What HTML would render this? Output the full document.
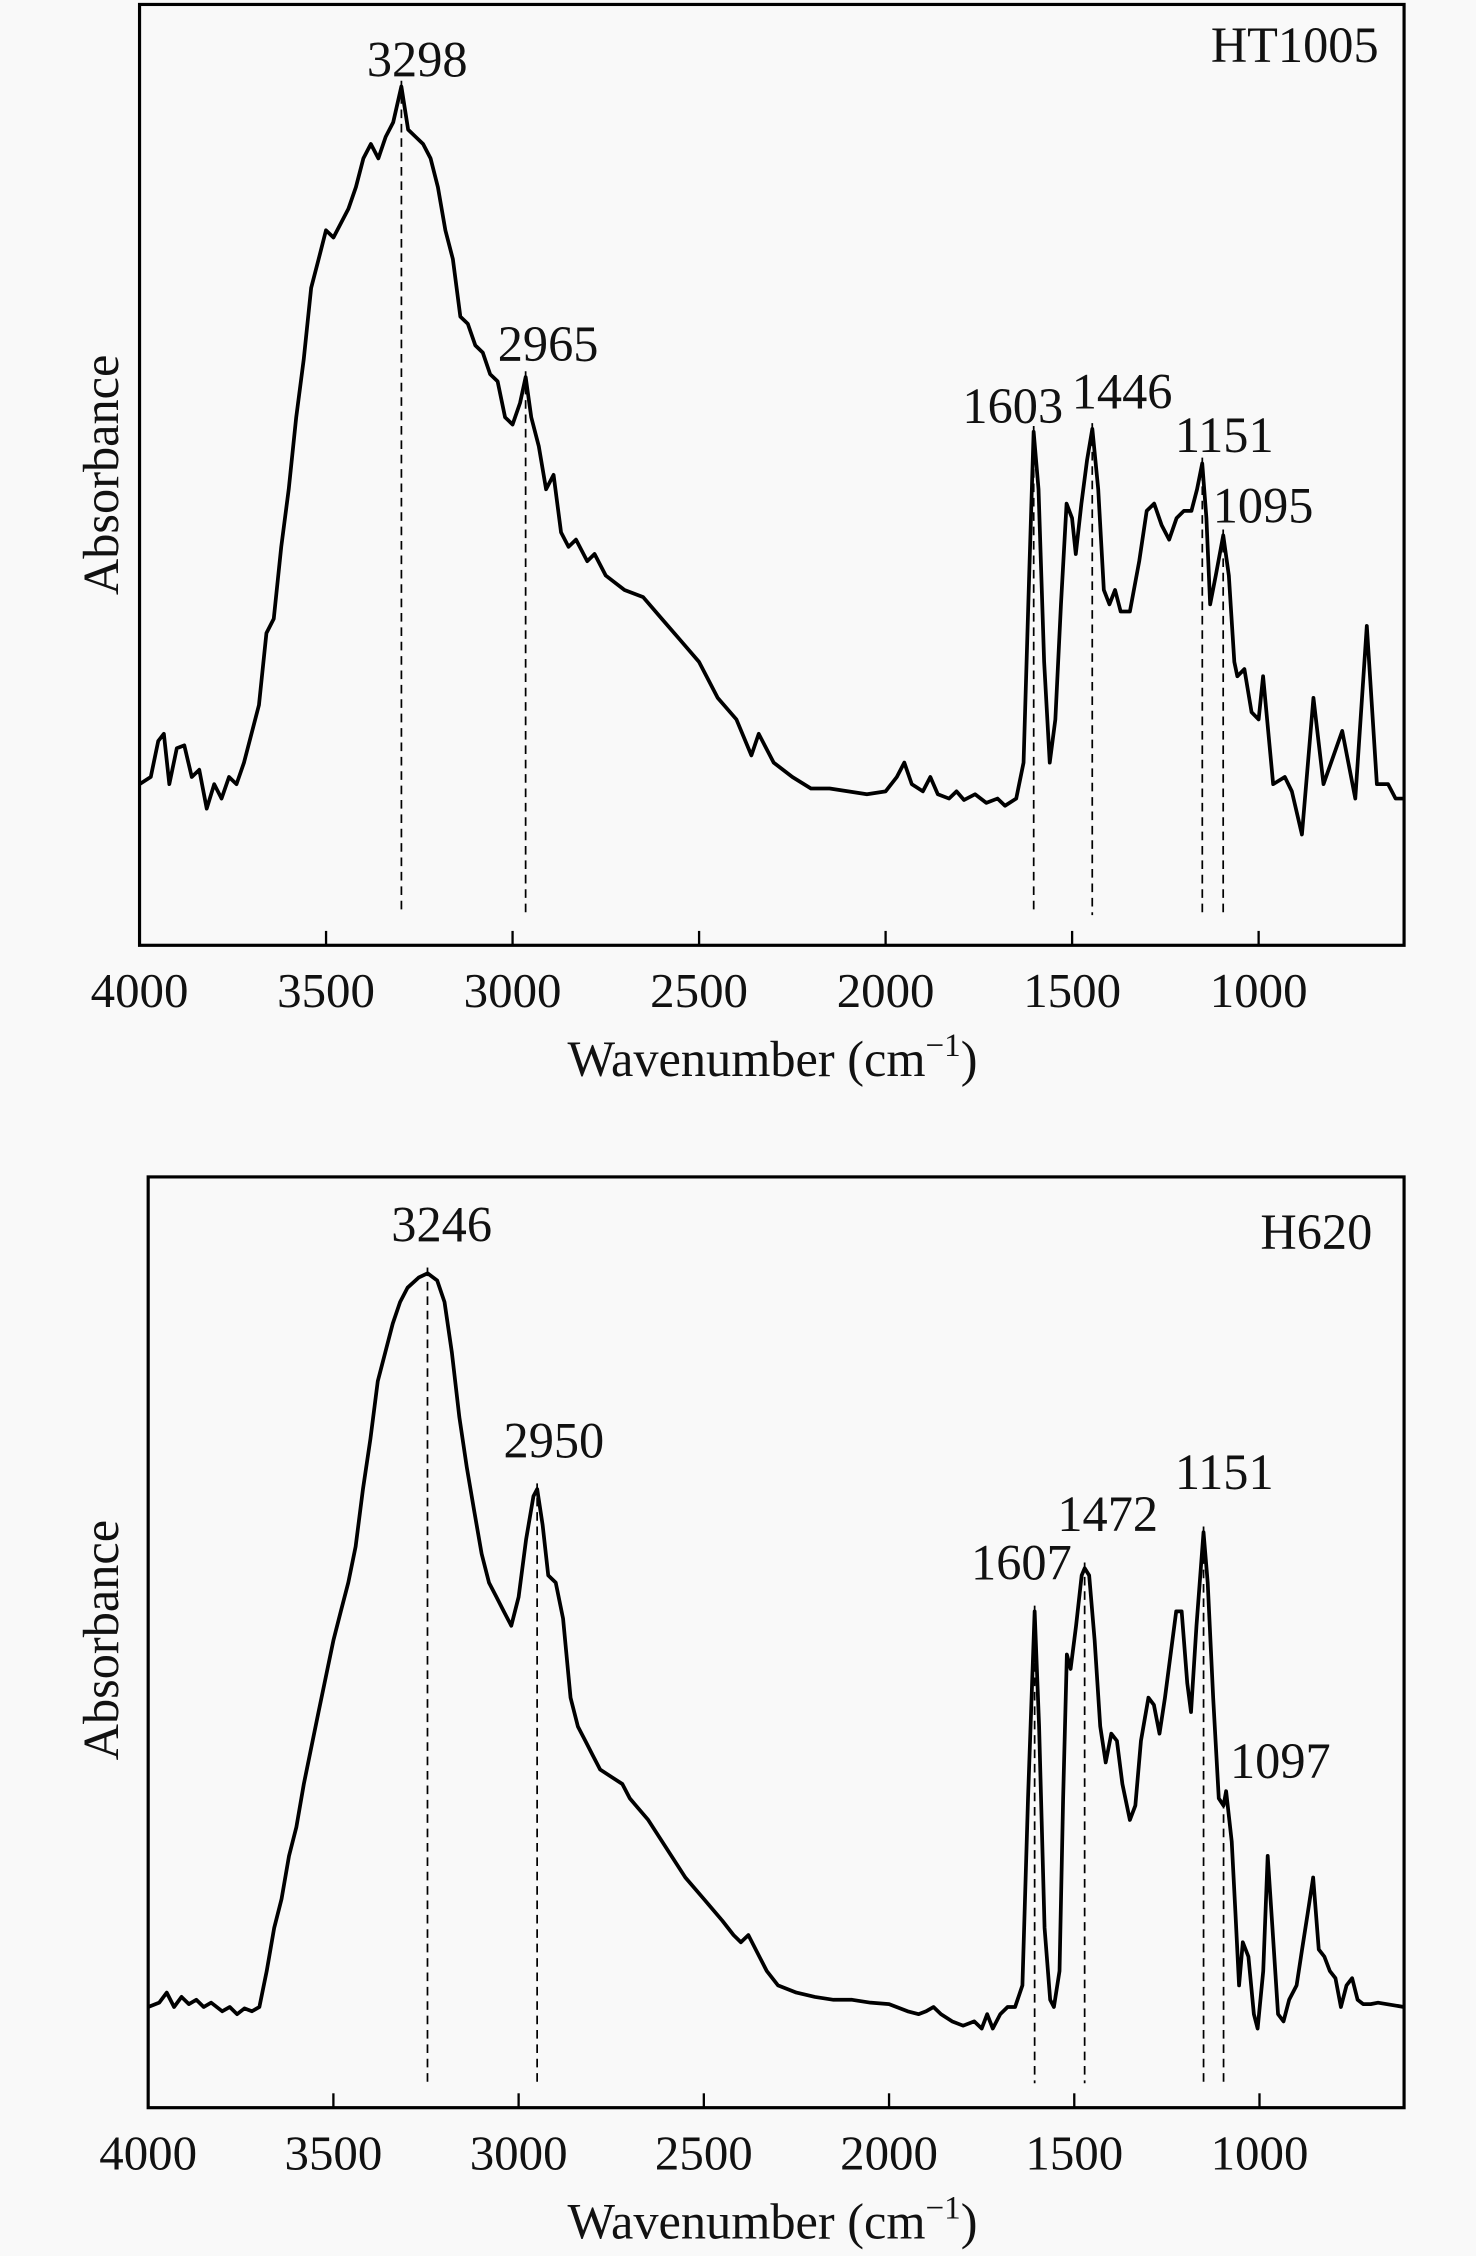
<!DOCTYPE html>
<html><head><meta charset="utf-8"><style>
html,body{margin:0;padding:0;background:#f9f9f9;}
svg{display:block;}
text{font-family:"Liberation Serif",serif;fill:#111;}
</style></head><body>
<svg id="fig" width="1476" height="2256" viewBox="0 0 1026 1568" xmlns="http://www.w3.org/2000/svg">
<rect width="1026" height="1568" fill="#f9f9f9"/>
</svg>
<script>
const topWn=[4000,3970,3950,3935,3920,3900,3880,3860,3840,3820,3800,3780,3760,3740,3720,3700,3680,3660,3640,3620,3600,3580,3560,3540,3520,3500,3480,3460,3440,3420,3400,3380,3360,3340,3320,3298,3280,3260,3240,3220,3200,3180,3160,3140,3120,3100,3080,3060,3040,3020,3000,2980,2965,2950,2930,2910,2890,2870,2850,2830,2800,2780,2750,2700,2650,2600,2550,2500,2450,2400,2360,2340,2320,2300,2250,2200,2150,2100,2050,2000,1970,1950,1930,1900,1880,1860,1830,1810,1790,1760,1730,1700,1680,1650,1630,1615,1603,1590,1575,1560,1545,1530,1515,1500,1490,1475,1460,1446,1430,1415,1400,1385,1370,1345,1320,1300,1280,1260,1240,1220,1200,1180,1165,1151,1140,1130,1115,1095,1080,1065,1057,1038,1019,1000,988,961,930,911,884,853,826,776,741,710,683,653,633,610];
const topAbs=[112,117,142,147,112,137,139,117,122,95,112,102,117,112,127,147,167,217,227,277,317,367,407,457,477,497,492,502,512,527,547,557,547,562,572,597,567,562,557,547,527,497,477,437,432,417,412,397,392,367,362,377,395,367,347,317,327,287,277,282,267,272,257,247,242,227,212,197,172,157,132,147,137,127,117,109,109,107,105,107,117,127,112,107,117,105,102,107,101,105,99,102,97,102,127,257,357,317,197,127,157,237,307,297,272,307,337,359,317,247,237,247,232,232,267,302,307,292,282,297,302,302,317,335,297,237,257,285,257,197,187,192,162,157,187,112,117,107,77,172,112,149,102,222,112,112,102,102];
const topPeaks=[3298,2965,1603,1446,1151,1095];
const botWn=[4000,3970,3950,3930,3910,3890,3870,3850,3830,3800,3780,3760,3740,3720,3700,3680,3660,3640,3620,3600,3580,3560,3540,3520,3500,3480,3460,3440,3420,3400,3380,3360,3340,3320,3300,3270,3246,3220,3200,3180,3160,3140,3120,3100,3080,3060,3040,3020,3000,2980,2960,2950,2935,2920,2900,2880,2860,2840,2820,2800,2780,2750,2720,2700,2650,2600,2550,2500,2450,2420,2400,2380,2360,2330,2300,2250,2200,2150,2100,2050,2000,1950,1920,1900,1880,1860,1830,1800,1770,1750,1735,1720,1700,1680,1660,1640,1625,1607,1595,1580,1565,1555,1540,1530,1520,1510,1495,1480,1472,1460,1445,1430,1415,1400,1385,1370,1350,1335,1320,1300,1285,1270,1255,1240,1225,1210,1195,1185,1170,1151,1140,1125,1110,1097,1090,1075,1065,1055,1045,1030,1015,1005,990,978,965,950,935,920,900,885,870,855,840,825,810,795,780,765,750,735,720,700,680,610];
const botAbs=[70,73,80,70,77,72,75,70,73,67,70,65,69,67,70,95,125,145,175,195,225,250,275,300,325,345,365,390,430,465,505,525,545,560,570,577,580,575,560,525,480,445,415,385,365,355,345,335,355,395,425,430,405,370,365,340,285,265,255,245,235,230,225,215,200,180,160,145,130,120,115,120,110,95,85,80,77,75,75,73,72,67,65,67,70,65,60,57,60,55,65,55,65,70,70,85,215,345,265,125,75,70,95,215,315,305,335,370,375,370,325,265,240,260,255,225,200,210,255,285,280,260,285,315,345,345,295,275,335,400,365,285,215,210,220,185,135,85,115,105,65,55,95,175,125,65,60,75,85,110,135,160,110,105,95,90,70,85,90,75,72,72,73,70];
const botPeaks=[3246,2950,1607,1472,1151,1097];
const xTicks=[4000,3500,3000,2500,2000,1500,1000];

const svg=document.getElementById('fig');
const NS='http://www.w3.org/2000/svg';
function mk(tag,attrs,parent){const e=document.createElementNS(NS,tag);for(const k in attrs)e.setAttribute(k,attrs[k]);(parent||svg).appendChild(e);return e;}

function panel(cfg){
  const g=mk('g',{});
  
  
  const L=cfg.left,R=cfg.right,T=cfg.top,B=cfg.bottom;
  const xs=w=>Math.min(R,L+(cfg.wMax-w)*cfg.k);
  const ys=v=>B-v;
  const fr=mk('rect',{x:L,y:T,width:R-L,height:B-T,fill:'none',stroke:'#000','stroke-width':2.2},g);
  
  
  xTicks.forEach(t=>{
    const x=xs(t);
    const tk=mk('line',{x1:x,x2:x,y1:B,y2:B-10,stroke:'#000','stroke-width':1.6},g);
    
    
    const tl=mk('text',{x:x,y:B+43,'font-size':34,'text-anchor':'middle'},g);
    tl.textContent=t;
    
    
  });
  const xt=mk('text',{x:537,y:B+91,'font-size':35,'text-anchor':'middle'},g);
  xt.innerHTML='Wavenumber (cm<tspan dy="-14" font-size="23">−1</tspan><tspan dy="14">)</tspan>';
  
  
  const yt=mk('text',{x:0,y:0,'font-size':35,'text-anchor':'middle',transform:`translate(82,${cfg.ymid}) rotate(-90)`},g);
  yt.textContent='Absorbance';
  
  
  cfg.peaks.forEach((p,i)=>{
    let idx=0,best=1e9;
    cfg.wn.forEach((w,j)=>{if(Math.abs(w-p)<best){best=Math.abs(w-p);idx=j;}});
    const v=cfg.abs[idx];
    const x=xs(p);
    const dl=mk('line',{x1:x,x2:x,y1:ys(v)-4,y2:cfg.dashEnd,stroke:'#000','stroke-width':1.2,'stroke-dasharray':'6,4'},g);
    
    
    const lb=mk('text',{x:cfg.labPos[i][0],y:cfg.labPos[i][1],'font-size':35,'text-anchor':'middle'},g);
    lb.textContent=p;
    
    
  });
  let d='';
  cfg.wn.forEach((w,i)=>{d+=(i?'L':'M')+xs(w).toFixed(1)+','+ys(cfg.abs[i]).toFixed(1);});
  const path=mk('path',{d:d,fill:'none',stroke:'#000','stroke-width':2.6,'stroke-linejoin':'round'},g);
  
  
  const st=mk('text',{x:cfg.sample[1],y:cfg.sample[2],'font-size':35,'text-anchor':'middle'},g);
  st.textContent=cfg.sample[0];
  
  
}

panel({name:'panel-ht1005',left:97,right:976,top:3,bottom:657,wMax:4000,k:0.2593,ymid:330,
  wn:topWn,abs:topAbs,peaks:topPeaks,dashEnd:636,
  labPos:[[290,53],[381,251],[704,294],[780,284],[851,314],[878,363]],sample:['HT1005',900,43]});
panel({name:'panel-h620',left:103,right:976,top:818,bottom:1465,wMax:4000,k:0.2575,ymid:1140,
  wn:botWn,abs:botAbs,peaks:botPeaks,dashEnd:1448,
  labPos:[[307,863],[385,1013],[710,1098],[770,1064],[851,1035],[890,1236]],sample:['H620',915,868]});
</script>
</body></html>
